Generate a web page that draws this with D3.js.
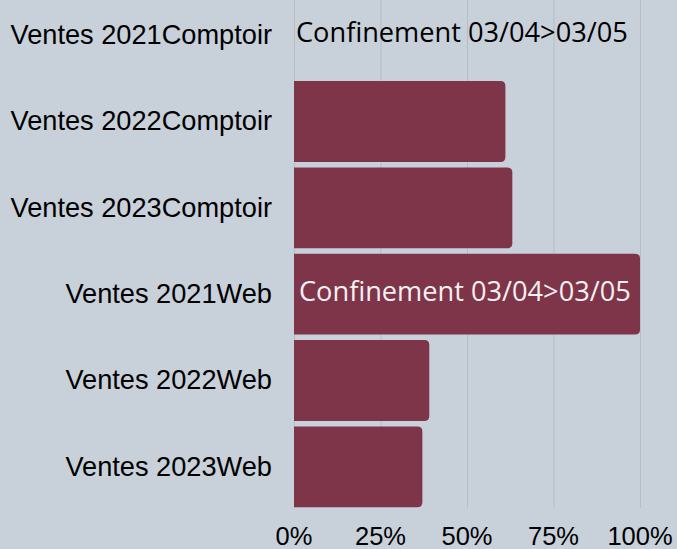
<!DOCTYPE html>
<html>
<head>
<meta charset="utf-8">
<script src="https://cdn.jsdelivr.net/npm/d3@7"></script>
<style>
	html, body { margin: 0; padding: 0; background: #c8d0da; }
	svg { display: block; }
</style>
</head>
<body>
<script>
(function() {

"use strict";

const CATEGORIES = [
	"Ventes 2021Comptoir",
	"Ventes 2022Comptoir",
	"Ventes 2023Comptoir",
	"Ventes 2021Web",
	"Ventes 2022Web",
	"Ventes 2023Web",
];

// share of the reference, 0 for the missing bar
const VALUES = [0, 0.611, 0.631, 1.0, 0.391, 0.371];

const NOTES = [
	"Confinement 03/04>03/05",
	null,
	null,
	"Confinement 03/04>03/05",
	null,
	null,
];

const TICKS = [0, 0.25, 0.5, 0.75, 1];

const width = 677, height = 549;
const margin = {top: -8, right: 37, bottom: 39, left: 294};
const barColor = "#7e3549";

let data = CATEGORIES.map((name, i) => ({name, value: VALUES[i], note: NOTES[i]}));

let scale = {
	x: d3.scaleLinear().domain([0, 1]).range([margin.left, width - margin.right]),
	y: d3.scaleBand().domain(CATEGORIES).range([margin.top, height - margin.bottom]).paddingInner(0.064).paddingOuter(0.032),
};

let svg = d3.select(document.body).append("svg")
	.attr("width", width)
	.attr("height", height)
	.attr("viewBox", `0 0 ${width} ${height}`);

svg.append("rect")
	.attr("width", width)
	.attr("height", height)
	.attr("fill", "#c8d0da");

// grid
svg.append("g")
	.attr("class", "grid")
	.selectAll("line")
	.data(TICKS)
	.join("line")
		.attr("x1", d => scale.x(d) + 0.5)
		.attr("x2", d => scale.x(d) + 0.5)
		.attr("y1", 0)
		.attr("y2", 508)
		.attr("stroke", "#b5bdc7")
		.attr("stroke-width", 1);

// bars, rounded on the right end only
function barPath(d) {
	let x0 = scale.x(0), x1 = scale.x(d.value);
	let y0 = scale.y(d.name), h = scale.y.bandwidth();
	let r = Math.min(5, (x1 - x0) / 2);
	return `M${x0},${y0}H${x1 - r}Q${x1},${y0} ${x1},${y0 + r}V${y0 + h - r}Q${x1},${y0 + h} ${x1 - r},${y0 + h}H${x0}Z`;
}

svg.append("g")
	.attr("class", "bars")
	.selectAll("path")
	.data(data.filter(d => d.value > 0))
	.join("path")
		.attr("d", barPath)
		.attr("fill", barColor);

// notes
svg.append("g")
	.attr("class", "notes")
	.selectAll("text")
	.data(data.filter(d => d.note))
	.join("text")
		.attr("x", d => scale.x(0) + (d.value > 0.5 ? 5 : 2))
		.attr("y", d => scale.y(d.name) + scale.y.bandwidth() / 2)
		.attr("dy", "0.25em")
		.attr("font-family", "'Open Sans', sans-serif")
		.attr("font-size", 27.2)
		.attr("fill", d => d.value > 0.5 ? "#f4f0f1" : "#000")
		.text(d => d.note);

// y labels
svg.append("g")
	.attr("class", "axis y")
	.selectAll("text")
	.data(CATEGORIES)
	.join("text")
		.attr("x", scale.x(0) - 22)
		.attr("y", d => scale.y(d) + scale.y.bandwidth() / 2)
		.attr("dy", "0.33em")
		.attr("text-anchor", "end")
		.attr("font-family", "'Liberation Sans', Arial, sans-serif")
		.attr("font-size", 27.2)
		.attr("fill", "#000")
		.text(d => d);

// x labels
svg.append("g")
	.attr("class", "axis x")
	.selectAll("text")
	.data(TICKS)
	.join("text")
		.attr("x", d => scale.x(d))
		.attr("y", 545)
		.attr("text-anchor", "middle")
		.attr("font-family", "'Liberation Sans', Arial, sans-serif")
		.attr("font-size", 25.5)
		.attr("fill", "#000")
		.text(d3.format(".0%"));

})();
</script>
</body>
</html>
